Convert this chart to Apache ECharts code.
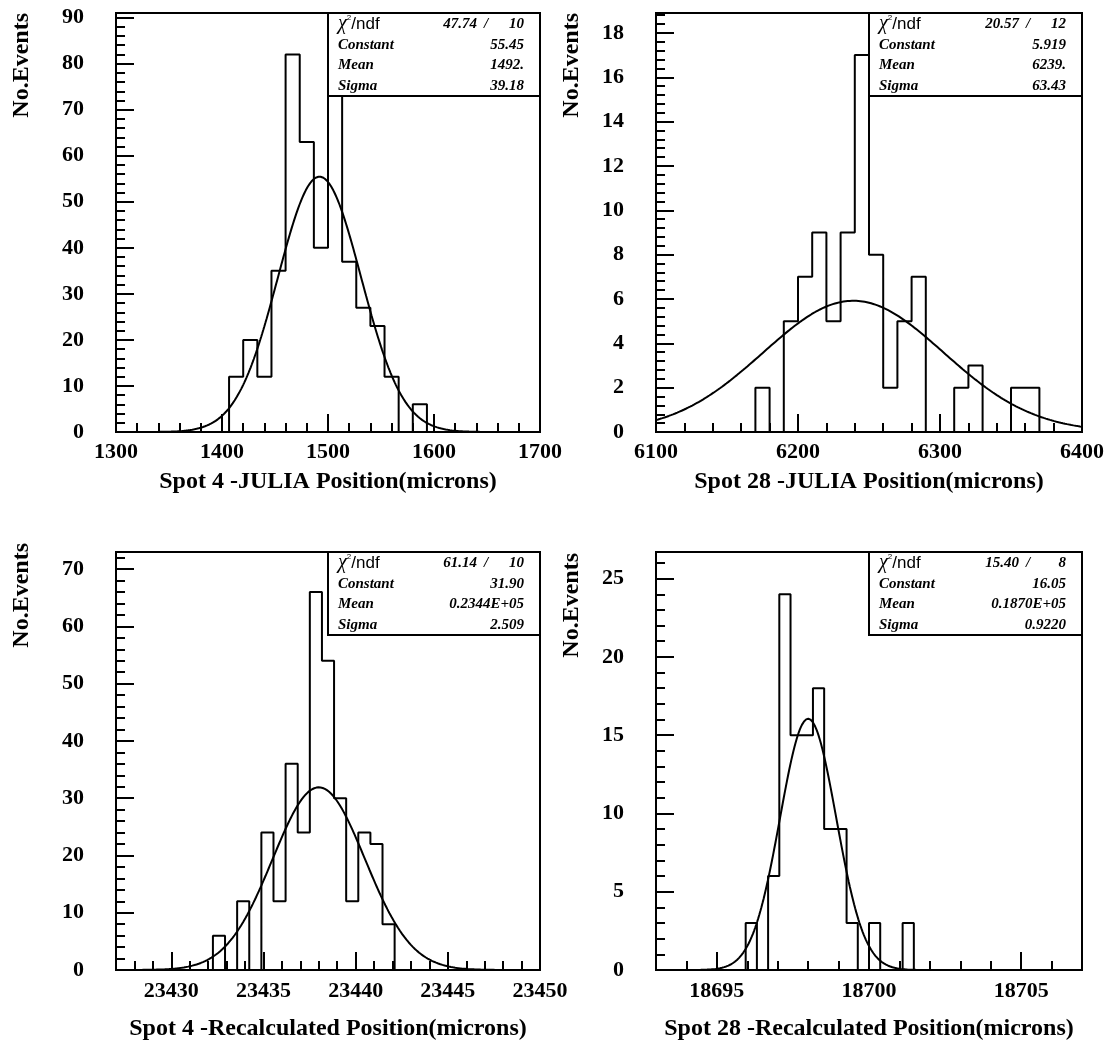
<!DOCTYPE html>
<html>
<head>
<meta charset="utf-8">
<script src="https://cdn.jsdelivr.net/npm/echarts@6/dist/echarts.min.js"></script>
<style>
  html, body { margin: 0; padding: 0; background: #ffffff; }
  #chart { width: 1117px; height: 1047px; }
</style>
</head>
<body>
<div id="chart"></div>
<script>
// ---- Histogram contents (events per bin) ----
// Spot 4, JULIA position: 30 bins over 1300..1700
const spot4JuliaCounts = [0, 0, 0, 0, 0, 0, 0, 0, 12, 20, 12, 35, 82, 63, 40, 73, 37, 27, 23, 12, 0, 6, 0, 0, 0, 0, 0, 0, 0, 0];
// Spot 28, JULIA position: 30 bins over 6100..6400
const spot28JuliaCounts = [0, 0, 0, 0, 0, 0, 0, 2, 0, 5, 7, 9, 5, 9, 17, 8, 2, 5, 7, 0, 0, 2, 3, 0, 0, 2, 2, 0, 0, 0];
// Spot 4, recalculated position: 35 bins over 23427..23450
const spot4RecalcCounts = [0, 0, 0, 0, 0, 0, 0, 0, 6, 0, 12, 0, 24, 12, 36, 24, 66, 54, 30, 12, 24, 22, 8, 0, 0, 0, 0, 0, 0, 0, 0, 0, 0, 0, 0];
// Spot 28, recalculated position: 38 bins over 18693..18707
const spot28RecalcCounts = [0, 0, 0, 0, 0, 0, 0, 0, 3, 0, 6, 24, 15, 15, 18, 9, 9, 3, 0, 3, 0, 0, 3, 0, 0, 0, 0, 0, 0, 0, 0, 0, 0, 0, 0, 0, 0, 0];

// ---- Histogram ranges ----
const xMins = [1300, 6100, 23427, 18693];
const xMaxs = [1700, 6400, 23450, 18707];
const yMaxs = [91, 18.9, 73, 26.7];

// ---- Axis titles ----
const xTitles = [
  'Spot 4 -JULIA Position(microns)',
  'Spot 28 -JULIA Position(microns)',
  'Spot 4 -Recalculated Position(microns)',
  'Spot 28 -Recalculated Position(microns)'
];
const yTitle = 'No.Events';

// ---- Tick labels ----
const xMajorTicks = [
  [1300, 1400, 1500, 1600, 1700],
  [6100, 6200, 6300, 6400],
  [23430, 23435, 23440, 23445, 23450],
  [18695, 18700, 18705]
];
const xMinorSteps = [20, 20, 1, 1];
const yMajorTicks = [
  [0, 10, 20, 30, 40, 50, 60, 70, 80, 90],
  [0, 2, 4, 6, 8, 10, 12, 14, 16, 18],
  [0, 10, 20, 30, 40, 50, 60, 70],
  [0, 5, 10, 15, 20, 25]
];
const yMinorSteps = [2, 0.4, 2, 1];

// ---- Gaussian fit results ----
const fitChi2 = ['47.74', '20.57', '61.14', '15.40'];
const fitNdf = ['10', '12', '10', '8'];
const fitConstant = ['55.45', '5.919', '31.90', '16.05'];
const fitMeanText = ['1492.', '6239.', '0.2344E+05', '0.1870E+05'];
const fitMean = [1492, 6239, 23438.0, 18698.0];
const fitSigma = ['39.18', '63.43', '2.509', '0.9220'];

const panelCounts = [spot4JuliaCounts, spot28JuliaCounts, spot4RecalcCounts, spot28RecalcCounts];

// ---- Page layout ----
const panelGrids = [
  { left: 116, top: 13, width: 424, height: 419 },
  { left: 656, top: 13, width: 426, height: 419 },
  { left: 116, top: 552, width: 424, height: 418 },
  { left: 656, top: 552, width: 426, height: 418 }
];
const xTitleGaps = [38, 38, 47, 47];
const xLabelMargins = [9, 9, 10, 10];
const yTitleAnchors = [[22, 13], [572, 13], [22, 543], [572, 553]];

const SERIF = 'Liberation Serif, Times New Roman, serif';
const SANS = 'Liberation Sans, Arial, sans-serif';

// Outline of a histogram: step path through the bin edges
function histogramOutline(counts, xMin, xMax) {
  const w = (xMax - xMin) / counts.length;
  const pts = [[xMin, 0]];
  counts.forEach((c, i) => {
    pts.push([xMin + i * w, c]);
    pts.push([xMin + (i + 1) * w, c]);
  });
  pts.push([xMax, 0]);
  return pts;
}

// Fitted Gaussian evaluated across the axis range
function gaussianCurve(constant, mean, sigma, xMin, xMax) {
  const pts = [];
  const n = 400;
  for (let i = 0; i <= n; i++) {
    const x = xMin + (xMax - xMin) * i / n;
    const z = (x - mean) / sigma;
    pts.push([x, constant * Math.exp(-0.5 * z * z)]);
  }
  return pts;
}

// Minor tick positions between the labelled ones
function minorTicks(min, max, step, majors) {
  const out = [];
  const start = Math.ceil(min / step - 1e-9);
  for (let k = start; k * step <= max + 1e-9; k++) {
    const v = Math.round(k * step * 1000) / 1000;
    if (!majors.some(m => Math.abs(m - v) < 1e-6)) out.push(v);
  }
  return out;
}

const plainNumber = v => String(v);

const grids = [], xAxes = [], yAxes = [], series = [], graphics = [];

panelGrids.forEach((g, i) => {
  grids.push({
    left: g.left, top: g.top, width: g.width, height: g.height,
    show: true, borderColor: '#000', borderWidth: 2, backgroundColor: 'transparent'
  });

  const xMin = xMins[i], xMax = xMaxs[i], yMax = yMaxs[i];

  // Labelled x axis with long ticks
  xAxes.push({
    type: 'value', gridIndex: i, position: 'bottom', min: xMin, max: xMax,
    name: xTitles[i], nameLocation: 'middle', nameGap: xTitleGaps[i],
    nameTextStyle: { fontFamily: SERIF, fontWeight: 'bold', fontSize: 24, color: '#000' },
    axisLine: { show: true, lineStyle: { color: '#000', width: 2 } },
    axisTick: { show: true, inside: true, length: 18, customValues: xMajorTicks[i], lineStyle: { color: '#000', width: 2 } },
    axisLabel: { show: true, customValues: xMajorTicks[i], margin: xLabelMargins[i], showMinLabel: true, showMaxLabel: true,
      formatter: plainNumber, fontFamily: SERIF, fontWeight: 'bold', fontSize: 22, color: '#000' },
    splitLine: { show: false }
  });
  // Short ticks on the same x scale
  xAxes.push({
    type: 'value', gridIndex: i, position: 'bottom', min: xMin, max: xMax,
    axisLine: { show: false },
    axisTick: { show: true, inside: true, length: 9, customValues: minorTicks(xMin, xMax, xMinorSteps[i], xMajorTicks[i]), lineStyle: { color: '#000', width: 2 } },
    axisLabel: { show: false },
    splitLine: { show: false }
  });

  // Labelled y axis with long ticks
  yAxes.push({
    type: 'value', gridIndex: i, position: 'left', min: 0, max: yMax,
    axisLine: { show: true, lineStyle: { color: '#000', width: 2 } },
    axisTick: { show: true, inside: true, length: 18, customValues: yMajorTicks[i], lineStyle: { color: '#000', width: 2 } },
    axisLabel: { show: true, customValues: yMajorTicks[i], margin: 32, showMinLabel: true, showMaxLabel: true,
      formatter: plainNumber, fontFamily: SERIF, fontWeight: 'bold', fontSize: 22, color: '#000' },
    splitLine: { show: false }
  });
  // Short ticks on the same y scale
  yAxes.push({
    type: 'value', gridIndex: i, position: 'left', min: 0, max: yMax,
    axisLine: { show: false },
    axisTick: { show: true, inside: true, length: 9, customValues: minorTicks(0, yMax, yMinorSteps[i], yMajorTicks[i]), lineStyle: { color: '#000', width: 2 } },
    axisLabel: { show: false },
    splitLine: { show: false }
  });

  series.push({
    type: 'line', name: 'histogram ' + (i + 1),
    xAxisIndex: 2 * i, yAxisIndex: 2 * i,
    data: histogramOutline(panelCounts[i], xMin, xMax),
    showSymbol: false, symbol: 'none',
    lineStyle: { color: '#000', width: 2 },
    z: 3
  });
  series.push({
    type: 'line', name: 'gaussian fit ' + (i + 1),
    xAxisIndex: 2 * i, yAxisIndex: 2 * i,
    data: gaussianCurve(parseFloat(fitConstant[i]), fitMean[i], parseFloat(fitSigma[i]), xMin, xMax),
    showSymbol: false, symbol: 'none', smooth: false,
    lineStyle: { color: '#000', width: 2 },
    z: 4
  });

  // Fit statistics box in the upper right quarter of the frame
  const x0 = g.left + g.width / 2, y0 = g.top, w = g.width / 2, h = 83;
  const rowY = k => y0 + 11 + 20.8 * k;
  const bi = { fontFamily: SERIF, fontStyle: 'italic', fontWeight: 'bold', fontSize: 15, fill: '#000' };
  graphics.push({
    type: 'rect', z: 50,
    shape: { x: x0, y: y0, width: w, height: h },
    style: { fill: '#fff', stroke: '#000', lineWidth: 2 }
  });
  graphics.push({
    type: 'text', z: 51, x: x0 + 10, y: rowY(0),
    style: {
      text: '{c|χ}{s|2}{n|/ndf}', verticalAlign: 'middle', align: 'left',
      rich: {
        c: { fontFamily: SERIF, fontStyle: 'italic', fontSize: 20, fill: '#000' },
        s: { fontFamily: SANS, fontSize: 8, fill: '#000', verticalAlign: 'top' },
        n: { fontFamily: SANS, fontSize: 17, fill: '#000' }
      }
    }
  });
  graphics.push({ type: 'text', z: 51, x: x0 + w - 63, y: rowY(0), style: Object.assign({ text: fitChi2[i], align: 'right', verticalAlign: 'middle' }, bi) });
  graphics.push({ type: 'text', z: 51, x: x0 + w - 54, y: rowY(0), style: Object.assign({ text: '/', align: 'center', verticalAlign: 'middle' }, bi) });
  graphics.push({ type: 'text', z: 51, x: x0 + w - 16, y: rowY(0), style: Object.assign({ text: fitNdf[i], align: 'right', verticalAlign: 'middle' }, bi) });

  const rows = [['Constant', fitConstant[i]], ['Mean', fitMeanText[i]], ['Sigma', fitSigma[i]]];
  rows.forEach((r, k) => {
    graphics.push({ type: 'text', z: 51, x: x0 + 10, y: rowY(k + 1), style: Object.assign({ text: r[0], align: 'left', verticalAlign: 'middle' }, bi) });
    graphics.push({ type: 'text', z: 51, x: x0 + w - 16, y: rowY(k + 1), style: Object.assign({ text: r[1], align: 'right', verticalAlign: 'middle' }, bi) });
  });

  // Vertical y-axis title
  graphics.push({
    type: 'text', z: 51, x: yTitleAnchors[i][0], y: yTitleAnchors[i][1], rotation: Math.PI / 2,
    style: { text: yTitle, align: 'right', verticalAlign: 'middle', fontFamily: SERIF, fontWeight: 'bold', fontSize: 24, fill: '#000' }
  });
});

const chart = echarts.init(document.getElementById('chart'), null, { renderer: 'canvas' });
chart.setOption({
  backgroundColor: '#ffffff',
  animation: false,
  grid: grids,
  xAxis: xAxes,
  yAxis: yAxes,
  series: series,
  graphic: { elements: graphics }
});
</script>
</body>
</html>
